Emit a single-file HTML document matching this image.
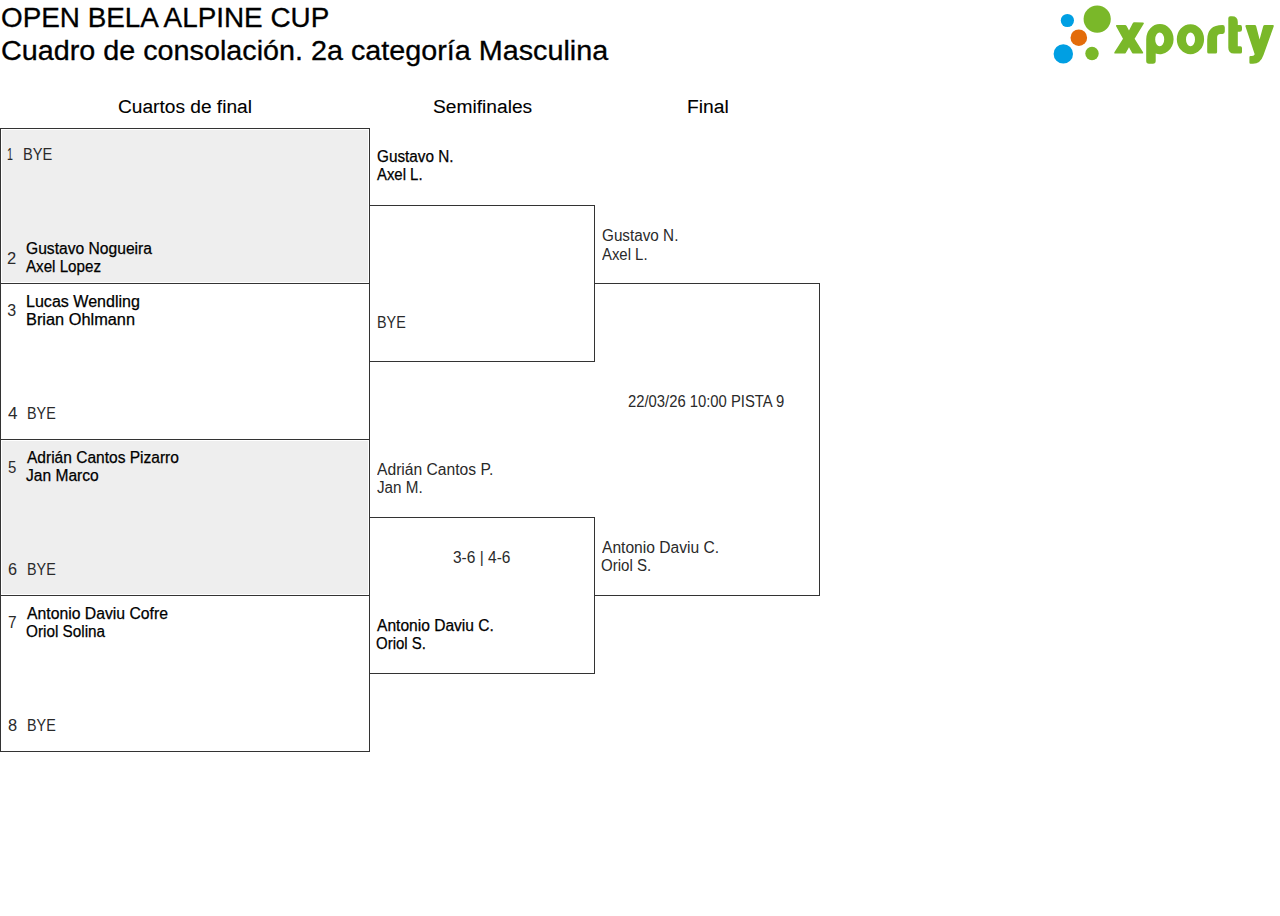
<!DOCTYPE html>
<html><head><meta charset="utf-8"><title>Cuadro de consolación</title>
<style>
html,body{margin:0;padding:0;background:#fff;width:1280px;height:916px;overflow:hidden;position:relative}
.t{position:absolute;white-space:nowrap;font-family:"Liberation Sans",sans-serif;color:#000;transform-origin:0 0}
.med{-webkit-text-stroke:0.25px #000}
.ttl{-webkit-text-stroke:0.3px #000}
.hdr{-webkit-text-stroke:0.1px #000}
.reg{color:#2a2a2a}
.b{position:absolute;box-sizing:border-box;border:1px solid #333}
.g{position:absolute;background:#eeeeee}
.logo{position:absolute;left:0;top:0}
</style></head><body>
<div class="g" style="left:2px;top:130px;width:366px;height:152px"></div>
<div class="g" style="left:2px;top:441px;width:366px;height:153px"></div>
<div class="b" style="left:0;top:128px;width:370px;height:156px"></div>
<div class="b" style="left:0;top:283px;width:370px;height:157px"></div>
<div class="b" style="left:0;top:439px;width:370px;height:157px"></div>
<div class="b" style="left:0;top:595px;width:370px;height:157px"></div>
<div class="b" style="left:369px;top:205px;width:226px;height:157px"></div>
<div class="b" style="left:369px;top:517px;width:226px;height:157px"></div>
<div class="b" style="left:594px;top:283px;width:226px;height:313px;border-left:none"></div>
<div class="t ttl" style="left:0.71px;top:4.72px;font-size:27.0px;line-height:27.0px;transform:scaleX(1.0317)">OPEN BELA ALPINE CUP</div>
<div class="t ttl" style="left:0.67px;top:37.92px;font-size:27.0px;line-height:27.0px;transform:scaleX(1.0646)">Cuadro de consolación. 2a categoría Masculina</div>
<div class="t hdr" style="left:118.20px;top:98.25px;font-size:18.0px;line-height:18.0px;transform:scaleX(1.0624)">Cuartos de final</div>
<div class="t hdr" style="left:433.20px;top:98.45px;font-size:18.0px;line-height:18.0px;transform:scaleX(1.0659)">Semifinales</div>
<div class="t hdr" style="left:687.15px;top:98.45px;font-size:18.0px;line-height:18.0px;transform:scaleX(1.0690)">Final</div>
<div class="t reg" style="left:7.17px;top:147.06px;font-size:16.0px;line-height:16.0px;transform:scaleX(0.6667)">1</div>
<div class="t reg" style="left:22.60px;top:147.06px;font-size:16.0px;line-height:16.0px;transform:scaleX(0.9167)">BYE</div>
<div class="t reg" style="left:7.32px;top:250.56px;font-size:16.0px;line-height:16.0px;transform:scaleX(1.0345)">2</div>
<div class="t med" style="left:25.52px;top:241.21px;font-size:16.0px;line-height:16.0px;transform:scaleX(0.9766)">Gustavo Nogueira</div>
<div class="t med" style="left:26.25px;top:259.36px;font-size:16.0px;line-height:16.0px;transform:scaleX(0.9471)">Axel Lopez</div>
<div class="t reg" style="left:7.35px;top:302.71px;font-size:16.0px;line-height:16.0px;transform:scaleX(1.0000)">3</div>
<div class="t med" style="left:25.65px;top:293.96px;font-size:16.0px;line-height:16.0px;transform:scaleX(1.0031)">Lucas Wendling</div>
<div class="t med" style="left:25.72px;top:311.96px;font-size:16.0px;line-height:16.0px;transform:scaleX(1.0215)">Brian Ohlmann</div>
<div class="t reg" style="left:7.83px;top:405.86px;font-size:16.0px;line-height:16.0px;transform:scaleX(1.0667)">4</div>
<div class="t reg" style="left:26.98px;top:405.86px;font-size:16.0px;line-height:16.0px;transform:scaleX(0.8967)">BYE</div>
<div class="t reg" style="left:7.90px;top:459.56px;font-size:16.0px;line-height:16.0px;transform:scaleX(0.9333)">5</div>
<div class="t med" style="left:26.60px;top:450.21px;font-size:16.0px;line-height:16.0px;transform:scaleX(0.9705)">Adrián Cantos Pizarro</div>
<div class="t med" style="left:25.76px;top:468.16px;font-size:16.0px;line-height:16.0px;transform:scaleX(0.9730)">Jan Marco</div>
<div class="t reg" style="left:7.64px;top:561.76px;font-size:16.0px;line-height:16.0px;transform:scaleX(1.0133)">6</div>
<div class="t reg" style="left:26.98px;top:561.76px;font-size:16.0px;line-height:16.0px;transform:scaleX(0.8967)">BYE</div>
<div class="t reg" style="left:7.88px;top:614.56px;font-size:16.0px;line-height:16.0px;transform:scaleX(0.9655)">7</div>
<div class="t med" style="left:26.60px;top:605.96px;font-size:16.0px;line-height:16.0px;transform:scaleX(0.9846)">Antonio Daviu Cofre</div>
<div class="t med" style="left:25.88px;top:623.96px;font-size:16.0px;line-height:16.0px;transform:scaleX(0.9561)">Oriol Solina</div>
<div class="t reg" style="left:7.63px;top:717.96px;font-size:16.0px;line-height:16.0px;transform:scaleX(1.0267)">8</div>
<div class="t reg" style="left:26.98px;top:717.96px;font-size:16.0px;line-height:16.0px;transform:scaleX(0.8967)">BYE</div>
<div class="t med" style="left:376.68px;top:149.46px;font-size:16.0px;line-height:16.0px;transform:scaleX(0.9564)">Gustavo N.</div>
<div class="t med" style="left:377.00px;top:167.46px;font-size:16.0px;line-height:16.0px;transform:scaleX(0.9305)">Axel L.</div>
<div class="t reg" style="left:376.98px;top:315.06px;font-size:16.0px;line-height:16.0px;transform:scaleX(0.8967)">BYE</div>
<div class="t reg" style="left:377.10px;top:462.16px;font-size:16.0px;line-height:16.0px;transform:scaleX(0.9779)">Adrián Cantos P.</div>
<div class="t reg" style="left:376.76px;top:480.26px;font-size:16.0px;line-height:16.0px;transform:scaleX(0.9514)">Jan M.</div>
<div class="t reg" style="left:453.37px;top:549.86px;font-size:16.0px;line-height:16.0px;transform:scaleX(0.9680)">3-6 | 4-6</div>
<div class="t med" style="left:377.40px;top:617.71px;font-size:16.0px;line-height:16.0px;transform:scaleX(0.9735)">Antonio Daviu C.</div>
<div class="t med" style="left:376.30px;top:635.76px;font-size:16.0px;line-height:16.0px;transform:scaleX(0.9366)">Oriol S.</div>
<div class="t reg" style="left:601.68px;top:228.26px;font-size:16.0px;line-height:16.0px;transform:scaleX(0.9543)">Gustavo N.</div>
<div class="t reg" style="left:602.00px;top:246.56px;font-size:16.0px;line-height:16.0px;transform:scaleX(0.9305)">Axel L.</div>
<div class="t reg" style="left:628.41px;top:393.76px;font-size:16.0px;line-height:16.0px;transform:scaleX(0.9256)">22/03/26 10:00 PISTA 9</div>
<div class="t reg" style="left:602.40px;top:539.86px;font-size:16.0px;line-height:16.0px;transform:scaleX(0.9755)">Antonio Daviu C.</div>
<div class="t reg" style="left:601.29px;top:557.96px;font-size:16.0px;line-height:16.0px;transform:scaleX(0.9412)">Oriol S.</div>
<svg class="logo" width="1280" height="80" viewBox="0 0 1280 80">
<g fill="#009fe3">
<circle cx="1067.4" cy="20.5" r="6.6"/>
<circle cx="1063.3" cy="53.9" r="9.7"/>
</g>
<circle cx="1078.8" cy="37.7" r="8.3" fill="#e36c0a"/>
<g fill="#7ab829">
<circle cx="1097.2" cy="19.1" r="13.6"/>
<circle cx="1092" cy="53.5" r="6.7"/>
<path d="M1116.7 25.1 L1125.1 25.1 Q1126 25.1 1126.6 26 L1129 30.4 L1132.6 23.4 Q1133.2 22.3 1134.4 22.3 L1143 22.4 Q1144.6 22.6 1143.6 24 L1134.6 38.8 L1143.1 52.3 Q1143.6 53.6 1142.3 53.6 L1133.6 53.6 Q1132.6 53.6 1132 52.7 L1129 47.3 L1125.9 52.7 Q1125.3 53.6 1124.3 53.6 L1115 53.6 Q1113.6 53.4 1114.4 52.2 L1123 38.8 L1116.1 26.3 Q1115.7 25.1 1116.7 25.1 Z"/>
<path fill-rule="evenodd" d="M1146.2 39.2 A13.7 15.1 0 0 1 1173.6 39.2 A13.7 15.1 0 0 1 1155.7 53.4 L1155.7 61 Q1155.7 63.8 1152.9 63.8 L1149 63.8 Q1146.2 63.8 1146.2 61 Z M1155.2 39.4 A4.5 6.9 0 0 0 1164.2 39.4 A4.5 6.9 0 0 0 1155.2 39.4 Z"/>
<path fill-rule="evenodd" d="M1176.8 39.2 A13.65 15.1 0 0 1 1204.1 39.2 A13.65 15.1 0 0 1 1176.8 39.2 Z M1186 39.4 A4.5 6.9 0 0 0 1195 39.4 A4.5 6.9 0 0 0 1186 39.4 Z"/>
<path d="M1207.2 40 Q1207.2 25.1 1222.5 25.1 Q1224.8 25.1 1224.8 27.4 L1224.8 31.6 Q1224.8 33.9 1222.5 33.9 L1220.5 33.9 Q1217.1 33.9 1217.1 37.5 L1217.1 52 Q1217.1 53.6 1215.5 53.6 L1208.8 53.6 Q1207.2 53.6 1207.2 52 Z"/>
<path d="M1228.3 18.3 Q1228.3 16.3 1230.3 16.3 L1232 16.3 Q1237.8 16.3 1237.8 22 L1237.8 25.1 L1240.3 25.1 Q1242 25.1 1242 27.4 L1242 29.6 Q1242 31.8 1239.8 31.8 L1237.8 31.8 L1237.8 46.2 L1240.3 46.2 Q1242 46.2 1242 47.9 L1242 52 Q1242 53.6 1240.3 53.6 L1234 53.6 Q1228.3 53.6 1228.3 47.8 Z"/>
<path d="M1246.5 25.1 L1254.8 25.1 Q1255.8 25.1 1256.2 26.2 L1259.6 39.5 L1263.2 26.2 Q1263.6 25.1 1264.8 25.1 L1272.8 25.1 Q1274.2 25.1 1273.7 26.5 L1263.5 55 Q1260.5 63.8 1253 63.8 L1250.5 63.8 Q1249.4 63.8 1249.4 62.6 L1249.4 57.2 Q1249.4 56.1 1250.5 56.1 L1252 56.1 Q1254.3 56 1254.7 54.3 L1245.5 26.5 Q1245.1 25.1 1246.5 25.1 Z"/>
</g>
</svg>

</body></html>
